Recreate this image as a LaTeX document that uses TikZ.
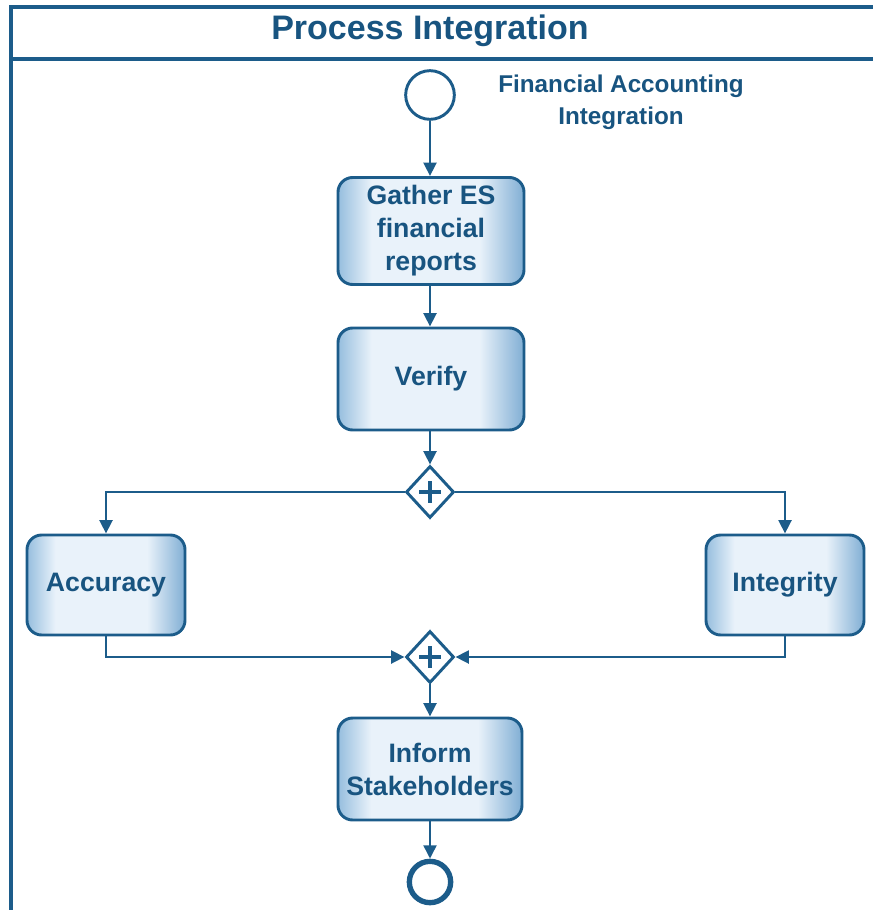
\documentclass[tikz,border=0pt]{standalone}
\usepackage{fontspec}
\setmainfont{Liberation Sans}
\usetikzlibrary{arrows.meta,shapes.geometric}

\definecolor{lineblue}{RGB}{28,92,138}
\definecolor{textblue}{RGB}{24,84,128}
\definecolor{edgeblue}{RGB}{150,190,222}
\definecolor{edgeblueR}{RGB}{128,174,212}
\definecolor{paleblue}{RGB}{233,242,250}

% darker bands at the left and right edges of each task box
\pgfdeclarehorizontalshading{taskshade}{100bp}{%
  color(0bp)=(edgeblue); color(25bp)=(edgeblue); color(34bp)=(paleblue);
  color(63bp)=(paleblue); color(75bp)=(edgeblueR); color(100bp)=(edgeblueR)}

\begin{document}
\begin{tikzpicture}[x=0.75pt,y=-0.75pt,
  every node/.style={font=\bfseries, text=textblue},
  task/.style={draw=lineblue, line width=2.2pt, rounded corners=11pt,
    shading=taskshade, align=center, inner sep=0pt,
    font=\bfseries\fontsize{20}{24.75}\selectfont},
  flow/.style={draw=lineblue, line width=2.2pt,
    -{Triangle[length=10pt,width=9.5pt]}},
  gateway/.style={draw=lineblue, fill=white, line width=2.2pt, diamond,
    minimum width=36pt, minimum height=39pt, inner sep=0pt},
  frameline/.style={draw=lineblue, line width=2.6pt},
  plusmark/.style={draw=lineblue, line width=2.3pt}
]
\useasboundingbox (0,0) rectangle (873,910);

% pool frame with header
\draw[frameline] (873,7) -- (11,7) -- (11,910);
\draw[frameline] (11,59) -- (873,59);
\node[font=\bfseries\fontsize{25.5}{28}\selectfont] (title) at (430,31) {Process Integration};

% events
\node[draw=lineblue, line width=2.2pt, circle, minimum size=36.5pt, inner sep=0pt] (start) at (430,95) {};
\node[align=center, font=\bfseries\fontsize{18.2}{24}\selectfont] (startlabel) at (621,102)
  {Financial Accounting\\Integration};
\node[draw=lineblue, line width=4pt, circle, minimum size=31pt, inner sep=0pt] (end) at (430,882) {};

% tasks
\node[task, minimum width=139.5pt, minimum height=80.25pt] (gather) at (431,231)
  {Gather ES\\financial\\reports};
\node[task, minimum width=139.5pt, minimum height=76.5pt] (verify) at (431,379) {Verify};
\node[task, minimum width=118.5pt, minimum height=75pt] (accuracy) at (106,585) {Accuracy};
\node[task, minimum width=118.5pt, minimum height=75pt] (integrity) at (785,585) {Integrity};
\node[task, minimum width=138pt, minimum height=76.5pt] (inform) at (430,769)
  {Inform\\Stakeholders};

% parallel gateways
\node[gateway] (split) at (430,492) {};
\node[gateway] (join) at (430,657) {};
\foreach \g in {split,join}{
  \draw[plusmark] ([yshift=-8pt]\g.center) -- ([yshift=8pt]\g.center);
  \draw[plusmark] ([xshift=-8pt]\g.center) -- ([xshift=8pt]\g.center);
}

% sequence flows
\draw[flow] (start) -- (start.south |- gather.north);
\draw[flow] (gather.south -| start.south) -- (start.south |- verify.north);
\draw[flow] (verify.south -| split.north) -- (split.north);
\draw[flow] (split.west) -| (accuracy.north);
\draw[flow] (split.east) -| (integrity.north);
\draw[flow] (accuracy.south) |- (join.west);
\draw[flow] (integrity.south) |- (join.east);
\draw[flow] (join.south) -- (inform.north -| join.south);
\draw[flow] (inform.south -| end.north) -- (end.north);
\end{tikzpicture}
\end{document}
